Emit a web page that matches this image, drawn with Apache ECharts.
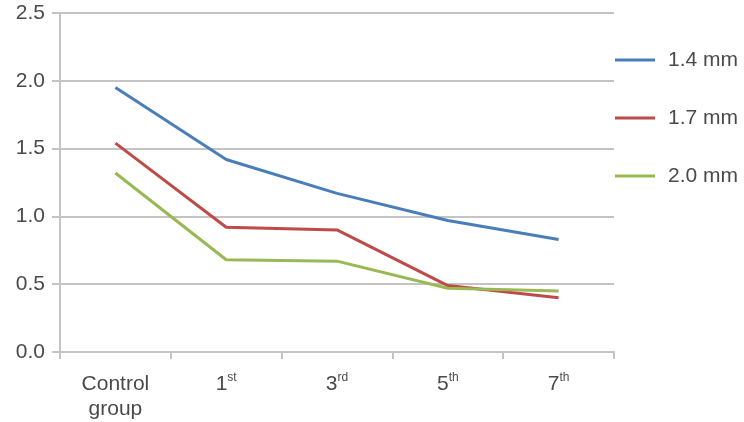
<!DOCTYPE html>
<html>
<head>
<meta charset="utf-8">
<script src="https://cdn.jsdelivr.net/npm/echarts@6/dist/echarts.min.js"></script>
<style>
	html, body { margin: 0; padding: 0; background: #fff; }
	#chart { width: 744px; height: 422px; }
</style>
</head>
<body>
<div id="chart"></div>
<script>
	// categories and series values
	var categories = ['Control\ngroup', '1{sup|st}', '3{sup|rd}', '5{sup|th}', '7{sup|th}'];
	var seriesNames = ['1.4 mm', '1.7 mm', '2.0 mm'];
	var values14 = [1.95, 1.42, 1.17, 0.97, 0.83];
	var values17 = [1.54, 0.92, 0.90, 0.49, 0.40];
	var values20 = [1.32, 0.68, 0.67, 0.47, 0.45];
	var yTicks = [0, 0.5, 1.0, 1.5, 2.0, 2.5];

	var colors = ['#4a7ebb', '#be4b48', '#98b954'];
	var textColor = '#4a4a4a';
	var gridColor = '#c4c4c4';

	var myChart = echarts.init(document.getElementById('chart'));

	function lineSeries(name, data) {
		return {
			name: name,
			type: 'line',
			data: data,
			symbol: 'none',
			lineStyle: { width: 3 }
		};
	}

	var option = {
		animation: false,
		color: colors,
		textStyle: { fontFamily: 'Liberation Sans' },
		grid: { left: 60, right: 130, top: 13, bottom: 70 },
		legend: {
			orient: 'vertical',
			left: 615,
			top: 48,
			padding: 0,
			icon: 'rect',
			itemWidth: 40,
			itemHeight: 3,
			itemGap: 34,
			textStyle: { fontSize: 21, color: textColor, lineHeight: 24, padding: [0, 0, 0, 8] },
			data: seriesNames
		},
		xAxis: {
			type: 'category',
			data: categories,
			boundaryGap: true,
			axisLine: { lineStyle: { color: gridColor, width: 2 } },
			axisTick: { show: true, length: 7, interval: 0, lineStyle: { color: gridColor, width: 2 } },
			axisLabel: {
				interval: 0,
				margin: 20,
				fontSize: 21,
				lineHeight: 25,
				color: textColor,
				rich: {
					sup: { fontSize: 12, verticalAlign: 'top', color: textColor }
				}
			}
		},
		yAxis: {
			type: 'value',
			min: yTicks[0],
			max: yTicks[yTicks.length - 1],
			interval: 0.5,
			axisLine: { show: true, lineStyle: { color: gridColor, width: 2 } },
			axisTick: { show: true, length: 8, lineStyle: { color: gridColor, width: 2 } },
			splitLine: { lineStyle: { color: gridColor, width: 2 } },
			axisLabel: {
				margin: 15,
				fontSize: 21,
				color: textColor,
				formatter: function (v) { return v.toFixed(1); }
			}
		},
		series: [
			lineSeries(seriesNames[0], values14),
			lineSeries(seriesNames[1], values17),
			lineSeries(seriesNames[2], values20)
		]
	};

	myChart.setOption(option);
</script>
</body>
</html>
